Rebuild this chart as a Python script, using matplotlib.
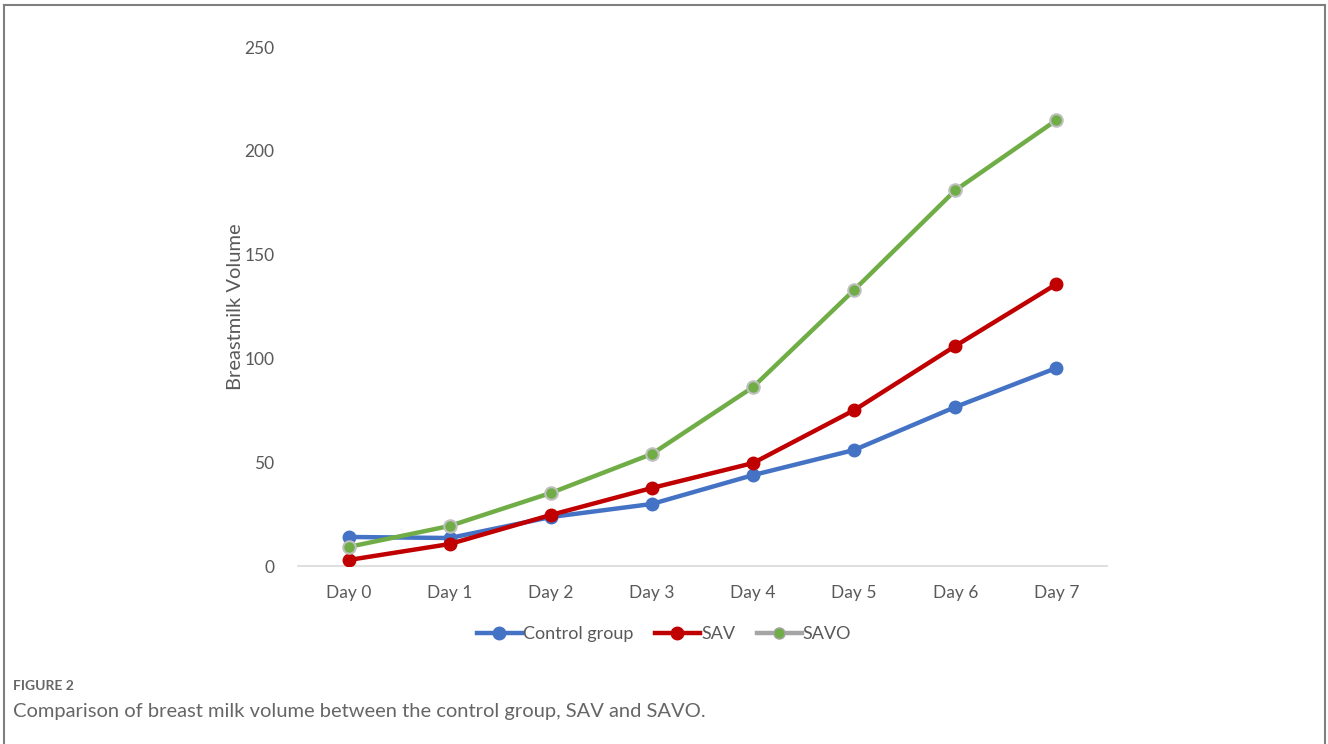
import matplotlib
matplotlib.use("Agg")
import matplotlib.pyplot as plt
from matplotlib.lines import Line2D

plt.rcParams['font.family'] = ['Lato', 'DejaVu Sans']

days = ["Day 0", "Day 1", "Day 2", "Day 3", "Day 4", "Day 5", "Day 6", "Day 7"]
control = [14.0, 13.5, 23.6, 29.9, 43.8, 55.9, 76.6, 95.4]
sav = [2.9, 10.6, 24.6, 37.6, 49.6, 75.1, 106.0, 135.8]
savo = [9.2, 19.3, 35.2, 54.0, 86.2, 133.0, 181.0, 214.8]
yticks = [0, 50, 100, 150, 200, 250]

blue = '#4472C4'
red = '#C00000'
green = '#70AD47'
gray_leg = '#A5A5A5'
txt = '#595959'

fig = plt.figure(figsize=(13.28, 7.44), dpi=100)
ax = fig.add_axes([0.2244, 0.2392, 0.6092, 0.6976])

x = list(range(len(days)))
ax.plot(x, control, color=blue, lw=3.2, marker='o', ms=9, mfc=blue, mec=blue, zorder=3)
ax.plot(x, sav, color=red, lw=3.2, marker='o', ms=9, mfc=red, mec=red, zorder=4)
ax.plot(x, savo, color=green, lw=3.2, marker='o', ms=9, mfc=green, mec='#BFBFBF',
        mew=1.5, zorder=5)

ax.set_xlim(-0.5, len(days) - 0.5)
ax.set_ylim(0, 250)
ax.set_xticks(x)
ax.set_xticklabels(days)
ax.set_yticks(yticks)
ax.tick_params(axis='both', length=0, labelsize=12.5, labelcolor=txt)
ax.tick_params(axis='x', pad=14)
ax.tick_params(axis='y', pad=17)
for s in ['top', 'right', 'left']:
    ax.spines[s].set_visible(False)
ax.spines['bottom'].set_color('#D9D9D9')
ax.spines['bottom'].set_linewidth(1.2)
ax.set_ylabel("Breastmilk Volume", fontsize=14.5, color=txt, labelpad=0)

handles = [
    Line2D([], [], color=blue, lw=3.2, marker='o', ms=9, mfc=blue, mec=blue),
    Line2D([], [], color=red, lw=3.2, marker='o', ms=9, mfc=red, mec=red),
    Line2D([], [], color=gray_leg, lw=3.2, marker='o', ms=8, mfc=green, mec=gray_leg),
]
fig.legend(handles, ["Control group", "SAV", "SAVO"], loc='center',
           bbox_to_anchor=(0.5, 1 - 634 / 744), ncol=3, frameon=False,
           fontsize=13, labelcolor=txt, handlelength=2.5, handletextpad=0.05,
           columnspacing=1.2)

# caption
fig.text(13 / 1328, 1 - 686 / 744, "FIGURE 2", fontsize=10, color='#666666',
         va='center', ha='left', fontweight='bold')
fig.text(13 / 1328, 1 - 712 / 744,
         "Comparison of breast milk volume between the control group, SAV and SAVO.",
         fontsize=14.5, color='#666666', va='center', ha='left')

# outer frame (top, left, right)
fc = '#7F7F7F'
fig.add_artist(Line2D([4 / 1328, 4 / 1328], [0, 1 - 5 / 744], color=fc, lw=1.5,
                      transform=fig.transFigure))
fig.add_artist(Line2D([4 / 1328, 1325 / 1328], [1 - 5 / 744, 1 - 5 / 744], color=fc,
                      lw=1.5, transform=fig.transFigure))
fig.add_artist(Line2D([1325 / 1328, 1325 / 1328], [0, 1 - 5 / 744], color=fc, lw=1.5,
                      transform=fig.transFigure))

fig.savefig("out.png", dpi=100)
